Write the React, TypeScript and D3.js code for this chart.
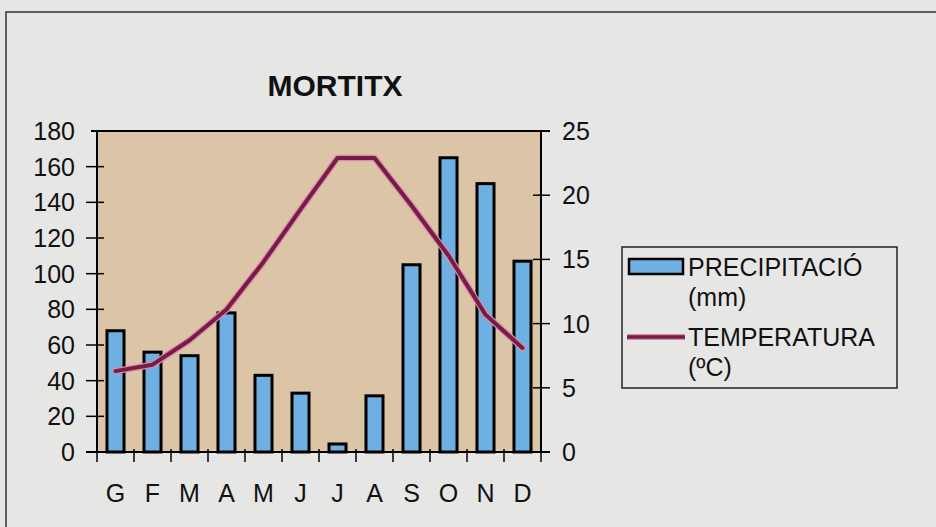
import React from "react";
import * as d3 from "d3";

const months = ["G", "F", "M", "A", "M", "J", "J", "A", "S", "O", "N", "D"];
const precipitation = [68, 56, 54, 78, 43, 33, 4.5, 31.5, 105, 165, 150.5, 107];
const temperature = [6.3, 6.8, 8.7, 11.1, 14.8, 18.9, 22.9, 22.9, 19.2, 15.3, 10.7, 8.1];
const precipTicks = [0, 20, 40, 60, 80, 100, 120, 140, 160, 180];
const tempTicks = [0, 5, 10, 15, 20, 25];
const title = "MORTITX";
const legendPrecip = ["PRECIPITACIÓ", "(mm)"];
const legendTemp = ["TEMPERATURA", "(ºC)"];

const W = 936;
const H = 527;
const L = 97;
const R = 541;
const T = 131;
const B = 452;
const FONT = "'Liberation Sans', Arial, Helvetica, sans-serif";
const BAR = "#6eb0e2";
const PLOTBG = "#dcc4a6";
const LINE = "#761c47";
const LINE_HALO = "#d98ba8";

export default function App() {
  const idx = months.map((_, i) => String(i));
  const x = d3.scaleBand<string>().domain(idx).range([L, R]).paddingInner(0).paddingOuter(0);
  const yP = d3.scaleLinear().domain([0, 180]).range([B, T]);
  const yT = d3.scaleLinear().domain([0, 25]).range([B, T]);
  const bw = x.bandwidth();
  const barW = bw * 0.46;
  const cx = (i: number) => (x(String(i)) as number) + bw / 2;

  const line = d3
    .line<number>()
    .x((_, i) => cx(i))
    .y((d) => yT(d))
    .curve(d3.curveLinear);
  const path = line(temperature) || "";

  const boundaries = d3.range(13).map((i) => L + i * bw);

  return (
    <svg
      width={W}
      height={H}
      style={{ position: "absolute", left: 0, top: 0, background: "#e6e6e5" }}
      fontFamily={FONT}
    >
      <rect x={0} y={0} width={W} height={H} fill="#e6e6e5" />
      {/* page frame */}
      <rect x={6} y={12} width={W + 20} height={H + 20} fill="none" stroke="#333" strokeWidth={1.5} />

      {/* title */}
      <text x={335} y={96} textAnchor="middle" fontSize={30} fontWeight="bold" fill="#111">
        {title}
      </text>

      {/* plot background */}
      <rect x={L} y={T} width={R - L} height={B - T} fill={PLOTBG} />

      {/* bars */}
      {precipitation.map((v, i) => (
        <rect
          key={"b" + i}
          x={cx(i) - barW / 2}
          y={yP(v)}
          width={barW}
          height={B - yP(v)}
          fill={BAR}
          stroke="#000"
          strokeWidth={3}
        />
      ))}

      {/* temperature line */}
      <path d={path} fill="none" stroke={LINE_HALO} strokeWidth={6.5} strokeLinejoin="round" strokeLinecap="round" />
      <path d={path} fill="none" stroke={LINE} strokeWidth={4} strokeLinejoin="round" strokeLinecap="round" />

      {/* axes frame */}
      <line x1={L - 6} y1={T} x2={R + 9} y2={T} stroke="#000" strokeWidth={2} />
      <line x1={L} y1={T} x2={L} y2={B} stroke="#000" strokeWidth={2} />
      <line x1={R} y1={T} x2={R} y2={B} stroke="#000" strokeWidth={2} />
      <line x1={L - 11} y1={B} x2={R + 9} y2={B} stroke="#000" strokeWidth={2} />

      {/* left ticks and labels */}
      {precipTicks.map((t) => (
        <g key={"lp" + t}>
          {t !== 180 && t !== 0 && (
            <line x1={L - 11} y1={yP(t)} x2={L + 7} y2={yP(t)} stroke="#000" strokeWidth={1.5} />
          )}
          <text x={L - 22} y={yP(t)} dy="0.36em" textAnchor="end" fontSize={25} fill="#111">
            {t}
          </text>
        </g>
      ))}

      {/* right ticks and labels */}
      {tempTicks.map((t) => (
        <g key={"rt" + t}>
          {t !== 25 && t !== 0 && (
            <line x1={R - 8} y1={yT(t)} x2={R + 9} y2={yT(t)} stroke="#000" strokeWidth={1.5} />
          )}
          <text x={562} y={yT(t)} dy="0.36em" textAnchor="start" fontSize={25} fill="#111">
            {t}
          </text>
        </g>
      ))}

      {/* bottom ticks */}
      {boundaries.map((bx, i) => (
        <line key={"bt" + i} x1={bx} y1={B - 3} x2={bx} y2={B + 10} stroke="#000" strokeWidth={1.5} />
      ))}

      {/* month labels */}
      {months.map((m, i) => (
        <text key={"m" + i} x={cx(i)} y={502} textAnchor="middle" fontSize={25} fill="#111">
          {m}
        </text>
      ))}

      {/* legend */}
      <rect x={622} y={247} width={275} height={141} fill="none" stroke="#222" strokeWidth={1.5} />
      <rect x={629} y={259} width={54} height={15} fill={BAR} stroke="#000" strokeWidth={2.5} />
      <text x={688} y={276} fontSize={25} fill="#111">
        {legendPrecip[0]}
      </text>
      <text x={688} y={306} fontSize={25} fill="#111">
        {legendPrecip[1]}
      </text>
      <line x1={627} y1={337} x2={685} y2={337} stroke={LINE_HALO} strokeWidth={6} />
      <line x1={627} y1={337} x2={685} y2={337} stroke={LINE} strokeWidth={3.5} />
      <text x={688} y={346} fontSize={25} fill="#111">
        {legendTemp[0]}
      </text>
      <text x={688} y={376} fontSize={25} fill="#111">
        {legendTemp[1]}
      </text>
    </svg>
  );
}
